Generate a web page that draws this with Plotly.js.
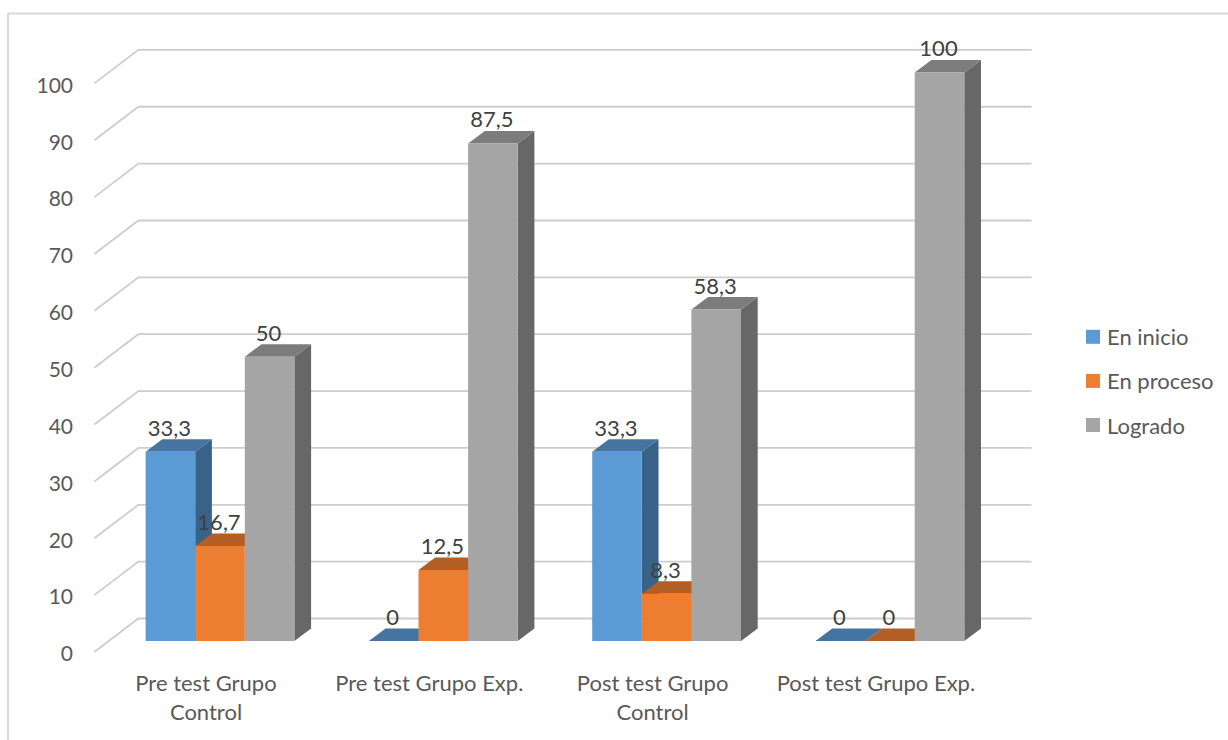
<!DOCTYPE html>
<html>
<head>
<meta charset="utf-8">
<script src="https://cdn.plot.ly/plotly-3.0.1.min.js"></script>
<style>html,body{margin:0;padding:0;background:#fff;overflow:hidden}</style>
</head>
<body>
<div id="chart" style="width:1228px;height:740px"></div>
<script>
// Chart data
const categories = ['Pre test Grupo<br>Control', 'Pre test Grupo Exp.', 'Post test Grupo<br>Control', 'Post test Grupo Exp.'];
const enInicio = [33.3, 0, 33.3, 0];
const enProceso = [16.7, 12.5, 8.3, 0];
const logrado = [50, 87.5, 58.3, 100];
const valueTicks = [0, 10, 20, 30, 40, 50, 60, 70, 80, 90, 100];

// Figure geometry in pixels
const W = 1228, H = 740, plotL = 80, plotT = 20, plotB = 664;
const unitX = 223.3, unitY = 5.686;      // pixels per category and per percentage point
const originX = 206, originY = 654;      // where category 0 / value 0 land on the axis

// Oblique projection offsets, in axis units
const floorDY = 2 / unitY;                            // axis baseline to front edge of the side wall
const wallDX = 44 / unitX, wallDY = 33.5 / unitY;     // front edge to back wall
const barDX = 14 / unitX, barDY = 11 / unitY;         // front edge to bar faces
const depthDX = 16.7 / unitX, depthDY = 12.5 / unitY; // bar depth
const barW = 49.6 / unitX;
const labelGap = 9 / unitY;

const xRange = [(plotL - originX) / unitX, (W - originX) / unitX];
const yRange = [(originY - plotB) / unitY, (originY - plotT) / unitY];

const palette = [
  {name: 'En inicio',  values: enInicio,  front: '#5B9BD5', top: '#44749F', side: '#386288'},
  {name: 'En proceso', values: enProceso, front: '#ED7D31', top: '#B25E24', side: '#8E4B1D'},
  {name: 'Logrado',    values: logrado,   front: '#A5A5A5', top: '#7C7C7C', side: '#676767'}
];

function face(xs, ys, color, name) {
  return {
    type: 'scatter', mode: 'lines', x: xs, y: ys, fill: 'toself', fillcolor: color,
    line: {width: 0, color: color}, showlegend: false, hoverinfo: 'skip', name: name
  };
}

const traces = [];

// Gridlines: short run along the side wall, long run along the back wall
const gridX = [], gridY = [];
valueTicks.forEach(v => {
  gridX.push(-0.5, -0.5 + wallDX, 3.5 + wallDX, null);
  gridY.push(v + floorDY, v + floorDY + wallDY, v + floorDY + wallDY, null);
});
traces.push({type: 'scatter', mode: 'lines', x: gridX, y: gridY,
  line: {color: '#CDCDCD', width: 1.8}, showlegend: false, hoverinfo: 'skip'});

// Bars, painted left to right so each front covers its neighbour's side
const labelX = [], labelY = [], labelText = [];
categories.forEach((c, i) => {
  palette.forEach((s, k) => {
    const v = s.values[i];
    const x0 = i + barDX + (k - 1.5) * barW, x1 = x0 + barW;
    const y0 = floorDY + barDY, y1 = v + y0;
    traces.push(face([x1, x1 + depthDX, x1 + depthDX, x1, x1], [y0, y0 + depthDY, y1 + depthDY, y1, y0], s.side, s.name + ' lateral'));
    traces.push(face([x0, x0 + depthDX, x1 + depthDX, x1, x0], [y1, y1 + depthDY, y1 + depthDY, y1, y1], s.top, s.name + ' superior'));
    traces.push(face([x0, x1, x1, x0, x0], [y0, y0, y1, y1, y0], s.front, s.name));
    labelX.push((x0 + x1) / 2 - 1 / unitX);
    labelY.push(y1 + depthDY + labelGap);
    labelText.push(String(v).replace('.', ','));
  });
});

traces.push({type: 'scatter', mode: 'text', x: labelX, y: labelY, text: labelText,
  textposition: 'middle center', textfont: {family: 'Lato, Carlito, sans-serif', size: 22, color: '#404040'},
  showlegend: false, hoverinfo: 'skip', cliponaxis: false});

// Legend entries
palette.forEach(s => {
  traces.push({type: 'scatter', mode: 'markers', x: [null], y: [null], name: s.name, legendgroup: s.name,
    marker: {symbol: 'square', size: 14, color: s.front}, hoverinfo: 'skip'});
});

const fx = px => (px - plotL) / (W - plotL);
const fy = py => (plotB - py) / (plotB - plotT);
const frameLine = {color: '#D9D9D9', width: 2};

const layout = {
  width: W, height: H,
  margin: {l: plotL, r: 0, t: plotT, b: H - plotB, pad: 0},
  paper_bgcolor: '#fff', plot_bgcolor: 'rgba(0,0,0,0)',
  font: {family: 'Lato, Carlito, sans-serif', size: 22, color: '#595959'},
  xaxis: {range: xRange, fixedrange: true, showgrid: false, zeroline: false, showline: false, ticks: '',
    tickmode: 'array', tickvals: categories.map((c, i) => i), ticktext: categories, tickangle: 0,
    ticklabelstandoff: 4, tickfont: {size: 22, color: '#595959'}},
  yaxis: {range: yRange, fixedrange: true, showgrid: false, zeroline: false, showline: false, ticks: '',
    tickmode: 'array', tickvals: valueTicks, ticktext: valueTicks.map(String), ticklabelstandoff: 6,
    tickfont: {size: 21, color: '#595959'}},
  legend: {x: fx(1067), xanchor: 'left', y: fy(316), yanchor: 'top', bgcolor: 'rgba(0,0,0,0)',
    tracegroupgap: 12.5, font: {size: 22, color: '#595959'}, itemclick: false, itemdoubleclick: false},
  shapes: [
    {type: 'line', xref: 'paper', yref: 'paper', x0: fx(8), x1: fx(W), y0: fy(13.5), y1: fy(13.5), line: frameLine},
    {type: 'line', xref: 'paper', yref: 'paper', x0: fx(8), x1: fx(8), y0: fy(13.5), y1: fy(H), line: frameLine}
  ],
  hovermode: false
};

Plotly.newPlot('chart', traces, layout, {displayModeBar: false, staticPlot: true}).then(() => {
  // Tighten the gap between legend swatches and their text
  document.querySelectorAll('#chart .legend .legendpoints').forEach(el => {
    el.setAttribute('transform', 'translate(6,0)');
  });
});
</script>
</body>
</html>
